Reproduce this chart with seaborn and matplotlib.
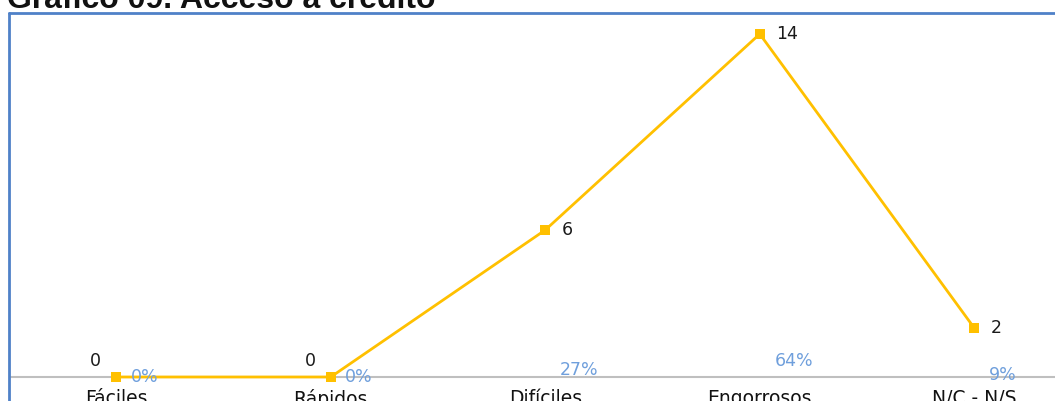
import numpy as np
import pandas as pd
import matplotlib
matplotlib.use('Agg')
import matplotlib.pyplot as plt
import seaborn as sns
from matplotlib.lines import Line2D

# data
categories = ['Fáciles', 'Rápidos', 'Difíciles', 'Engorrosos', 'N/C - N/S']
counts = [0, 0, 6, 14, 2]
percents = [0, 0, 27, 64, 9]
title = 'Gráfico 09. Acceso a crédito'

sns.set_theme(style='white')
plt.rcParams['font.family'] = ['DejaVu Sans']

W, H = 1055, 401
fig = plt.figure(figsize=(W / 100, H / 100), dpi=100)

# plot area: left edge at frame, zero line at y=377 px, 24.5 px per unit
left_px, top_px, zero_px, unit_px = 9, 13, 377, 24.5
ax = fig.add_axes([left_px / W, 0, 1 - left_px / W, (H - top_px) / H])
ax.set_ylim(-(H - zero_px) / unit_px, (zero_px - top_px) / unit_px)
ax.set_xlim(-0.5, -0.5 + (W - left_px) / 214.5)

ax.axhline(0, color='#BFBFBF', lw=1.5, zorder=1)

df = pd.DataFrame({'cat': categories, 'n': counts})
sns.lineplot(data=df, x='cat', y='n', sort=False, ax=ax, color='#FFC000',
             lw=2, marker='s', markersize=7.5, markeredgewidth=0,
             zorder=3)

# count labels
for i, v in enumerate(counts):
    if v == 0:
        ax.annotate(str(v), (i, v), xytext=(-15, 11.5), textcoords='offset points',
                    ha='center', va='center', fontsize=12.5, color='#1a1a1a')
    else:
        ax.annotate(str(v), (i, v), xytext=(12, 0), textcoords='offset points',
                    ha='left', va='center', fontsize=12.5, color='#1a1a1a')

# percentage labels (hidden series, 100% ~ one unit)
for i, p in enumerate(percents):
    ax.annotate(f'{p}%', (i, p / 100), xytext=(10.5, 0), textcoords='offset points',
                ha='left', va='center', fontsize=12.5, color='#6F9FDC')

# category labels hang from the zero line
ax.spines['bottom'].set_position(('data', 0))
ax.set_xticks(range(len(categories)))
ax.set_xticklabels(categories, fontsize=13.5, color='#111111')
ax.tick_params(axis='x', length=0, pad=8.5)
ax.set_yticks([])
ax.set_xlabel('')
ax.set_ylabel('')
for s in ax.spines.values():
    s.set_visible(False)
ax.patch.set_alpha(0)

# blue chart frame
fx, fy = left_px / W, 1 - top_px / H
fig.add_artist(Line2D([fx, 1], [fy, fy], transform=fig.transFigure,
                      color='#4F81C8', lw=2))
fig.add_artist(Line2D([fx, fx], [0, fy], transform=fig.transFigure,
                      color='#4F81C8', lw=2))

fig.text(7 / W, 1 - 8 / H, title, fontsize=23, fontweight='bold',
         family=['Liberation Sans', 'DejaVu Sans'], ha='left', va='baseline',
         color='#111111')

fig.savefig('out.png', dpi=100)
